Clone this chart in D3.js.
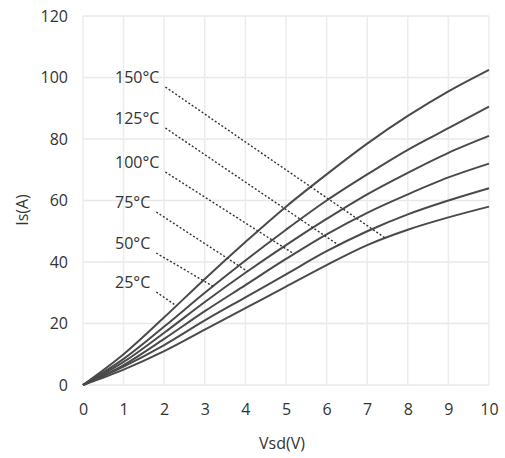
<!DOCTYPE html>
<html><head><meta charset="utf-8">
<script src="https://cdn.jsdelivr.net/npm/d3@7/dist/d3.min.js"></script>
<style>body{margin:0;background:#fff}svg{display:block}text{font-family:"Open Sans",sans-serif}</style>
</head><body>
<svg id="c" width="505" height="458"></svg>
<script>
const vsd = [0,1,2,3,4,5,6,7,8,9,10];
const temps = ["25°C","50°C","75°C","100°C","125°C","150°C"];
const is25  = [0,10,22,34.5,46.5,58,68.5,78.5,87.5,95.5,102.5];
const is50  = [0,8.5,19,30,40.5,50.5,60,68.5,76.5,83.5,90.5];
const is75  = [0,7.5,17,27,36.5,45.5,54,62,69,75.5,81];
const is100 = [0,6.5,15,24,32.5,41,49,56,62,67.5,72];
const is125 = [0,6,13,21,28.5,36,43.5,50,55.5,60,64];
const is150 = [0,5,11,18,25,32,39,45.5,50.5,54.5,58];
const series = [is25,is50,is75,is100,is125,is150];
// leader line target Vsd on each curve
const leaderV = [2.3,3.2,4.05,5.2,6.3,7.45];
const xTicks = [0,1,2,3,4,5,6,7,8,9,10];
const yTicks = [0,20,40,60,80,100,120];

const svg = d3.select("#c");
const x = d3.scaleLinear().domain([0,10]).range([83,489]);
const y = d3.scaleLinear().domain([0,120]).range([385,16]);

// grid
svg.append("g").selectAll("line").data(yTicks).join("line")
  .attr("x1",x(0)).attr("x2",x(10)).attr("y1",d=>y(d)).attr("y2",d=>y(d))
  .attr("stroke","#e8e8e8").attr("stroke-width",1.5);
svg.append("g").selectAll("line").data(xTicks).join("line")
  .attr("y1",y(0)).attr("y2",y(120)).attr("x1",d=>x(d)).attr("x2",d=>x(d))
  .attr("stroke","#ececec").attr("stroke-width",1.5);

// axes labels
const yAxis = d3.axisLeft(y).tickValues(yTicks).tickSize(0).tickPadding(15);
const gy = svg.append("g").attr("transform",`translate(${x(0)},0)`).call(yAxis);
const xAxis = d3.axisBottom(x).tickValues(xTicks).tickSize(0).tickPadding(19);
const gx = svg.append("g").attr("transform",`translate(0,${y(0)})`).call(xAxis);
[gy,gx].forEach(g=>{
  g.select(".domain").remove();
  g.selectAll("text").attr("font-family","'Open Sans',sans-serif").attr("font-size",16).attr("fill","#333");
});
svg.append("text").attr("x",282).attr("y",449).attr("text-anchor","middle")
  .attr("font-size",16).attr("fill","#333").text("Vsd(V)");
svg.append("text").attr("transform","translate(28,210) rotate(-90)").attr("text-anchor","middle")
  .attr("font-size",16).attr("fill","#333").text("Is(A)");

// curves
const line = d3.line().x((d,i)=>x(vsd[i])).y(d=>y(d)).curve(d3.curveCatmullRom);
svg.append("g").selectAll("path").data(series).join("path")
  .attr("d",d=>line(d)).attr("fill","none").attr("stroke","#4a4a4a").attr("stroke-width",2);

// labels & leaders
const labelY = [282,243,202,162,118,77];
const interp = (arr,v)=>{const i=Math.min(9,Math.floor(v));return arr[i]+(arr[i+1]-arr[i])*(v-i);};
temps.forEach((t,i)=>{
  const tx = svg.append("text").attr("x",115).attr("y",labelY[i]).attr("dy","0.35em")
    .attr("font-size",16).attr("fill","#333").text(t);
  const w = tx.node().getComputedTextLength();
  const sx = 115+w+6, sy = labelY[i]+10;
  const ex = x(leaderV[i]), ey = y(interp(series[i],leaderV[i]));
  svg.append("line").attr("x1",sx).attr("y1",sy).attr("x2",ex).attr("y2",ey)
    .attr("stroke","#333").attr("stroke-width",1.4).attr("stroke-dasharray","2,2");
});
</script>
</body></html>
